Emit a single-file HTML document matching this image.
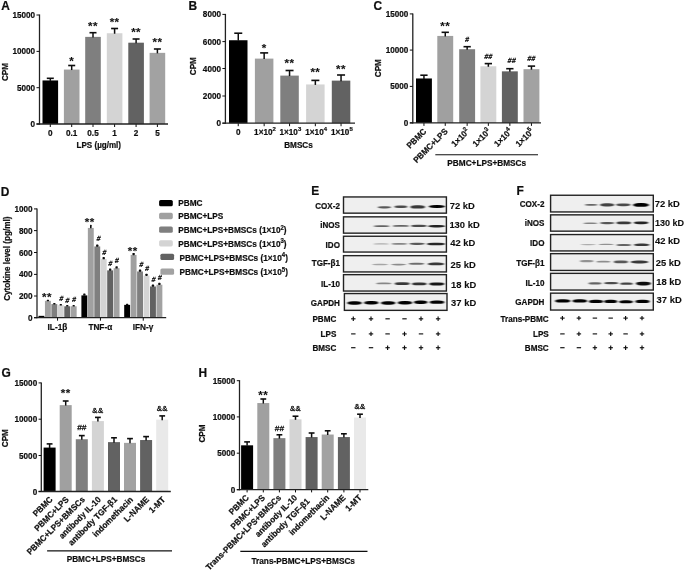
<!DOCTYPE html>
<html><head><meta charset="utf-8"><style>html,body{margin:0;padding:0;background:#fff}svg{display:block}text{stroke:#111;stroke-width:0.22px;paint-order:stroke}</style></head><body>
<svg width="685" height="572" viewBox="0 0 685 572" font-family="Liberation Sans, sans-serif">
<defs><filter id="bl" x="-20%" y="-100%" width="140%" height="300%"><feGaussianBlur stdDeviation="0.9 0.5"/></filter><filter id="soft" x="0" y="0" width="100%" height="100%" filterUnits="userSpaceOnUse"><feGaussianBlur stdDeviation="0.3"/></filter><filter id="bl2" x="-20%" y="-100%" width="140%" height="300%"><feGaussianBlur stdDeviation="0.7 0.45"/></filter></defs>
<rect x="0.00" y="0.00" width="685.00" height="572.00" fill="#fff" />
<g filter="url(#soft)">
<text transform="translate(1.30,10.00) scale(0.97,1)" font-size="12.3" text-anchor="start" fill="#111" font-weight="bold" >A</text>
<text transform="translate(188.60,10.00) scale(0.97,1)" font-size="12.3" text-anchor="start" fill="#111" font-weight="bold" >B</text>
<text transform="translate(373.60,9.80) scale(0.97,1)" font-size="12.3" text-anchor="start" fill="#111" font-weight="bold" >C</text>
<text transform="translate(0.80,196.00) scale(0.97,1)" font-size="12.3" text-anchor="start" fill="#111" font-weight="bold" >D</text>
<text transform="translate(311.20,195.40) scale(0.97,1)" font-size="12.3" text-anchor="start" fill="#111" font-weight="bold" >E</text>
<text transform="translate(516.40,195.30) scale(0.97,1)" font-size="12.3" text-anchor="start" fill="#111" font-weight="bold" >F</text>
<text transform="translate(1.60,376.50) scale(0.97,1)" font-size="12.3" text-anchor="start" fill="#111" font-weight="bold" >G</text>
<text transform="translate(198.40,376.50) scale(0.97,1)" font-size="12.3" text-anchor="start" fill="#111" font-weight="bold" >H</text>
<rect x="42.50" y="80.44" width="15.60" height="43.56" fill="#050505" />
<line x1="50.30" y1="80.94" x2="50.30" y2="78.30" stroke="#111" stroke-width="1.5"/>
<line x1="46.80" y1="78.30" x2="53.80" y2="78.30" stroke="#111" stroke-width="1.6"/>
<line x1="50.30" y1="124.00" x2="50.30" y2="127.00" stroke="#111" stroke-width="1.0"/>
<rect x="63.90" y="69.55" width="15.60" height="54.45" fill="#a0a0a0" />
<line x1="71.70" y1="70.05" x2="71.70" y2="65.50" stroke="#111" stroke-width="1.5"/>
<line x1="68.20" y1="65.50" x2="75.20" y2="65.50" stroke="#111" stroke-width="1.6"/>
<line x1="71.70" y1="124.00" x2="71.70" y2="127.00" stroke="#111" stroke-width="1.0"/>
<rect x="85.20" y="36.88" width="15.60" height="87.12" fill="#7f7f7f" />
<line x1="93.00" y1="37.38" x2="93.00" y2="32.70" stroke="#111" stroke-width="1.5"/>
<line x1="89.50" y1="32.70" x2="96.50" y2="32.70" stroke="#111" stroke-width="1.6"/>
<line x1="93.00" y1="124.00" x2="93.00" y2="127.00" stroke="#111" stroke-width="1.0"/>
<rect x="106.80" y="33.25" width="15.60" height="90.75" fill="#d4d4d4" />
<line x1="114.60" y1="33.75" x2="114.60" y2="28.50" stroke="#111" stroke-width="1.5"/>
<line x1="111.10" y1="28.50" x2="118.10" y2="28.50" stroke="#111" stroke-width="1.6"/>
<line x1="114.60" y1="124.00" x2="114.60" y2="127.00" stroke="#111" stroke-width="1.0"/>
<rect x="128.30" y="42.69" width="15.60" height="81.31" fill="#626262" />
<line x1="136.10" y1="43.19" x2="136.10" y2="39.00" stroke="#111" stroke-width="1.5"/>
<line x1="132.60" y1="39.00" x2="139.60" y2="39.00" stroke="#111" stroke-width="1.6"/>
<line x1="136.10" y1="124.00" x2="136.10" y2="127.00" stroke="#111" stroke-width="1.0"/>
<rect x="149.60" y="52.85" width="15.60" height="71.15" fill="#a2a2a2" />
<line x1="157.40" y1="53.35" x2="157.40" y2="49.00" stroke="#111" stroke-width="1.5"/>
<line x1="153.90" y1="49.00" x2="160.90" y2="49.00" stroke="#111" stroke-width="1.6"/>
<line x1="157.40" y1="124.00" x2="157.40" y2="127.00" stroke="#111" stroke-width="1.0"/>
<line x1="39.50" y1="14.50" x2="39.50" y2="124.60" stroke="#222" stroke-width="1.3"/>
<line x1="36.50" y1="124.00" x2="168.00" y2="124.00" stroke="#222" stroke-width="1.3"/>
<line x1="36.50" y1="15.00" x2="39.50" y2="15.00" stroke="#111" stroke-width="1.0"/>
<text transform="translate(35.10,18.05) scale(0.96,1)" font-size="8.5" text-anchor="end" fill="#111" font-weight="bold" >15000</text>
<line x1="36.50" y1="51.40" x2="39.50" y2="51.40" stroke="#111" stroke-width="1.0"/>
<text transform="translate(35.10,54.45) scale(0.96,1)" font-size="8.5" text-anchor="end" fill="#111" font-weight="bold" >10000</text>
<line x1="36.50" y1="87.70" x2="39.50" y2="87.70" stroke="#111" stroke-width="1.0"/>
<text transform="translate(35.10,90.75) scale(0.96,1)" font-size="8.5" text-anchor="end" fill="#111" font-weight="bold" >5000</text>
<line x1="36.50" y1="124.00" x2="39.50" y2="124.00" stroke="#111" stroke-width="1.0"/>
<text transform="translate(35.10,127.05) scale(0.96,1)" font-size="8.5" text-anchor="end" fill="#111" font-weight="bold" >0</text>
<text transform="translate(50.30,135.80) scale(0.96,1)" font-size="8.5" text-anchor="middle" fill="#111" font-weight="bold" >0</text>
<text transform="translate(71.70,135.80) scale(0.96,1)" font-size="8.5" text-anchor="middle" fill="#111" font-weight="bold" >0.1</text>
<text transform="translate(93.00,135.80) scale(0.96,1)" font-size="8.5" text-anchor="middle" fill="#111" font-weight="bold" >0.5</text>
<text transform="translate(114.60,135.80) scale(0.96,1)" font-size="8.5" text-anchor="middle" fill="#111" font-weight="bold" >1</text>
<text transform="translate(136.10,135.80) scale(0.96,1)" font-size="8.5" text-anchor="middle" fill="#111" font-weight="bold" >2</text>
<text transform="translate(157.40,135.80) scale(0.96,1)" font-size="8.5" text-anchor="middle" fill="#111" font-weight="bold" >5</text>
<text transform="translate(98.80,147.70) scale(0.96,1)" font-size="8.4" text-anchor="middle" fill="#111" font-weight="bold" >LPS (µg/ml)</text>
<text transform="translate(7.70,72.00) rotate(-90) scale(0.96,1)" font-size="8.5" text-anchor="middle" fill="#111" font-weight="bold">CPM</text>
<text transform="translate(71.70,65.11) scale(1.0,1)" font-size="11.5" text-anchor="middle" fill="#111" font-weight="bold" letter-spacing="0.5" style="stroke-width:0.1px">*</text>
<text transform="translate(93.00,29.70) scale(1.0,1)" font-size="11.5" text-anchor="middle" fill="#111" font-weight="bold" letter-spacing="0.5" style="stroke-width:0.1px">**</text>
<text transform="translate(114.60,26.01) scale(1.0,1)" font-size="11.5" text-anchor="middle" fill="#111" font-weight="bold" letter-spacing="0.5" style="stroke-width:0.1px">**</text>
<text transform="translate(136.10,35.60) scale(1.0,1)" font-size="11.5" text-anchor="middle" fill="#111" font-weight="bold" letter-spacing="0.5" style="stroke-width:0.1px">**</text>
<text transform="translate(157.40,45.70) scale(1.0,1)" font-size="11.5" text-anchor="middle" fill="#111" font-weight="bold" letter-spacing="0.5" style="stroke-width:0.1px">**</text>
<rect x="229.00" y="40.24" width="18.50" height="82.96" fill="#050505" />
<line x1="238.25" y1="40.74" x2="238.25" y2="33.20" stroke="#111" stroke-width="1.5"/>
<line x1="234.25" y1="33.20" x2="242.25" y2="33.20" stroke="#111" stroke-width="1.6"/>
<line x1="238.25" y1="123.20" x2="238.25" y2="126.20" stroke="#111" stroke-width="1.0"/>
<rect x="254.90" y="58.60" width="18.50" height="64.60" fill="#a0a0a0" />
<line x1="264.15" y1="59.10" x2="264.15" y2="52.90" stroke="#111" stroke-width="1.5"/>
<line x1="260.15" y1="52.90" x2="268.15" y2="52.90" stroke="#111" stroke-width="1.6"/>
<line x1="264.15" y1="123.20" x2="264.15" y2="126.20" stroke="#111" stroke-width="1.0"/>
<rect x="280.30" y="75.60" width="18.50" height="47.60" fill="#7f7f7f" />
<line x1="289.55" y1="76.10" x2="289.55" y2="70.50" stroke="#111" stroke-width="1.5"/>
<line x1="285.55" y1="70.50" x2="293.55" y2="70.50" stroke="#111" stroke-width="1.6"/>
<line x1="289.55" y1="123.20" x2="289.55" y2="126.20" stroke="#111" stroke-width="1.0"/>
<rect x="306.10" y="84.44" width="18.50" height="38.76" fill="#d4d4d4" />
<line x1="315.35" y1="84.94" x2="315.35" y2="80.40" stroke="#111" stroke-width="1.5"/>
<line x1="311.35" y1="80.40" x2="319.35" y2="80.40" stroke="#111" stroke-width="1.6"/>
<line x1="315.35" y1="123.20" x2="315.35" y2="126.20" stroke="#111" stroke-width="1.0"/>
<rect x="331.80" y="80.63" width="18.50" height="42.57" fill="#626262" />
<line x1="341.05" y1="81.13" x2="341.05" y2="75.00" stroke="#111" stroke-width="1.5"/>
<line x1="337.05" y1="75.00" x2="345.05" y2="75.00" stroke="#111" stroke-width="1.6"/>
<line x1="341.05" y1="123.20" x2="341.05" y2="126.20" stroke="#111" stroke-width="1.0"/>
<line x1="225.40" y1="13.90" x2="225.40" y2="123.80" stroke="#222" stroke-width="1.3"/>
<line x1="222.40" y1="123.20" x2="355.00" y2="123.20" stroke="#222" stroke-width="1.3"/>
<line x1="222.40" y1="14.40" x2="225.40" y2="14.40" stroke="#111" stroke-width="1.0"/>
<text transform="translate(221.00,17.45) scale(0.96,1)" font-size="8.5" text-anchor="end" fill="#111" font-weight="bold" >8000</text>
<line x1="222.40" y1="41.60" x2="225.40" y2="41.60" stroke="#111" stroke-width="1.0"/>
<text transform="translate(221.00,44.65) scale(0.96,1)" font-size="8.5" text-anchor="end" fill="#111" font-weight="bold" >6000</text>
<line x1="222.40" y1="68.50" x2="225.40" y2="68.50" stroke="#111" stroke-width="1.0"/>
<text transform="translate(221.00,71.55) scale(0.96,1)" font-size="8.5" text-anchor="end" fill="#111" font-weight="bold" >4000</text>
<line x1="222.40" y1="96.00" x2="225.40" y2="96.00" stroke="#111" stroke-width="1.0"/>
<text transform="translate(221.00,99.05) scale(0.96,1)" font-size="8.5" text-anchor="end" fill="#111" font-weight="bold" >2000</text>
<line x1="222.40" y1="123.20" x2="225.40" y2="123.20" stroke="#111" stroke-width="1.0"/>
<text transform="translate(221.00,126.25) scale(0.96,1)" font-size="8.5" text-anchor="end" fill="#111" font-weight="bold" >0</text>
<text transform="translate(238.25,134.80) scale(0.96,1)" font-size="8.5" text-anchor="middle" fill="#111" font-weight="bold" >0</text>
<text transform="translate(264.95,134.80) scale(0.96,1)" font-size="8.5" text-anchor="middle" fill="#111" font-weight="bold" >1×10<tspan font-size="6.2" dy="-3.7">2</tspan></text>
<text transform="translate(290.35,134.80) scale(0.96,1)" font-size="8.5" text-anchor="middle" fill="#111" font-weight="bold" >1×10<tspan font-size="6.2" dy="-3.7">3</tspan></text>
<text transform="translate(316.15,134.80) scale(0.96,1)" font-size="8.5" text-anchor="middle" fill="#111" font-weight="bold" >1×10<tspan font-size="6.2" dy="-3.7">4</tspan></text>
<text transform="translate(341.85,134.80) scale(0.96,1)" font-size="8.5" text-anchor="middle" fill="#111" font-weight="bold" >1×10<tspan font-size="6.2" dy="-3.7">5</tspan></text>
<text transform="translate(298.50,147.90) scale(0.96,1)" font-size="8.5" text-anchor="middle" fill="#111" font-weight="bold" >BMSCs</text>
<text transform="translate(195.80,66.20) rotate(-90) scale(0.96,1)" font-size="8.5" text-anchor="middle" fill="#111" font-weight="bold">CPM</text>
<text transform="translate(264.15,52.01) scale(1.0,1)" font-size="11.5" text-anchor="middle" fill="#111" font-weight="bold" letter-spacing="0.5" style="stroke-width:0.1px">*</text>
<text transform="translate(289.55,67.11) scale(1.0,1)" font-size="11.5" text-anchor="middle" fill="#111" font-weight="bold" letter-spacing="0.5" style="stroke-width:0.1px">**</text>
<text transform="translate(315.35,75.91) scale(1.0,1)" font-size="11.5" text-anchor="middle" fill="#111" font-weight="bold" letter-spacing="0.5" style="stroke-width:0.1px">**</text>
<text transform="translate(341.05,72.91) scale(1.0,1)" font-size="11.5" text-anchor="middle" fill="#111" font-weight="bold" letter-spacing="0.5" style="stroke-width:0.1px">**</text>
<rect x="416.00" y="78.47" width="15.90" height="44.43" fill="#050505" />
<line x1="423.95" y1="78.97" x2="423.95" y2="75.20" stroke="#111" stroke-width="1.5"/>
<line x1="420.30" y1="75.20" x2="427.60" y2="75.20" stroke="#111" stroke-width="1.6"/>
<line x1="423.95" y1="122.90" x2="423.95" y2="125.90" stroke="#111" stroke-width="1.0"/>
<rect x="437.30" y="35.93" width="15.90" height="86.97" fill="#a0a0a0" />
<line x1="445.25" y1="36.43" x2="445.25" y2="32.30" stroke="#111" stroke-width="1.5"/>
<line x1="441.60" y1="32.30" x2="448.90" y2="32.30" stroke="#111" stroke-width="1.6"/>
<line x1="445.25" y1="122.90" x2="445.25" y2="125.90" stroke="#111" stroke-width="1.0"/>
<rect x="459.20" y="49.21" width="15.90" height="73.69" fill="#7f7f7f" />
<line x1="467.15" y1="49.71" x2="467.15" y2="46.70" stroke="#111" stroke-width="1.5"/>
<line x1="463.50" y1="46.70" x2="470.80" y2="46.70" stroke="#111" stroke-width="1.6"/>
<line x1="467.15" y1="122.90" x2="467.15" y2="125.90" stroke="#111" stroke-width="1.0"/>
<rect x="480.40" y="66.27" width="15.90" height="56.63" fill="#d4d4d4" />
<line x1="488.35" y1="66.77" x2="488.35" y2="63.60" stroke="#111" stroke-width="1.5"/>
<line x1="484.70" y1="63.60" x2="492.00" y2="63.60" stroke="#111" stroke-width="1.6"/>
<line x1="488.35" y1="122.90" x2="488.35" y2="125.90" stroke="#111" stroke-width="1.0"/>
<rect x="501.90" y="71.35" width="15.90" height="51.55" fill="#626262" />
<line x1="509.85" y1="71.85" x2="509.85" y2="68.70" stroke="#111" stroke-width="1.5"/>
<line x1="506.20" y1="68.70" x2="513.50" y2="68.70" stroke="#111" stroke-width="1.6"/>
<line x1="509.85" y1="122.90" x2="509.85" y2="125.90" stroke="#111" stroke-width="1.0"/>
<rect x="523.50" y="69.18" width="15.90" height="53.72" fill="#a2a2a2" />
<line x1="531.45" y1="69.68" x2="531.45" y2="66.10" stroke="#111" stroke-width="1.5"/>
<line x1="527.80" y1="66.10" x2="535.10" y2="66.10" stroke="#111" stroke-width="1.6"/>
<line x1="531.45" y1="122.90" x2="531.45" y2="125.90" stroke="#111" stroke-width="1.0"/>
<line x1="412.80" y1="13.40" x2="412.80" y2="123.50" stroke="#222" stroke-width="1.3"/>
<line x1="409.80" y1="122.90" x2="541.00" y2="122.90" stroke="#222" stroke-width="1.3"/>
<line x1="409.80" y1="13.90" x2="412.80" y2="13.90" stroke="#111" stroke-width="1.0"/>
<text transform="translate(408.40,16.95) scale(0.96,1)" font-size="8.5" text-anchor="end" fill="#111" font-weight="bold" >15000</text>
<line x1="409.80" y1="50.10" x2="412.80" y2="50.10" stroke="#111" stroke-width="1.0"/>
<text transform="translate(408.40,53.15) scale(0.96,1)" font-size="8.5" text-anchor="end" fill="#111" font-weight="bold" >10000</text>
<line x1="409.80" y1="86.40" x2="412.80" y2="86.40" stroke="#111" stroke-width="1.0"/>
<text transform="translate(408.40,89.45) scale(0.96,1)" font-size="8.5" text-anchor="end" fill="#111" font-weight="bold" >5000</text>
<line x1="409.80" y1="122.90" x2="412.80" y2="122.90" stroke="#111" stroke-width="1.0"/>
<text transform="translate(408.40,125.95) scale(0.96,1)" font-size="8.5" text-anchor="end" fill="#111" font-weight="bold" >0</text>
<text transform="translate(380.60,68.20) rotate(-90) scale(0.96,1)" font-size="8.5" text-anchor="middle" fill="#111" font-weight="bold">CPM</text>
<text transform="translate(426.95,132.00) rotate(-45) scale(0.96,1)" font-size="8.5" text-anchor="end" fill="#111" font-weight="bold">PBMC</text>
<text transform="translate(448.25,132.00) rotate(-45) scale(0.96,1)" font-size="8.5" text-anchor="end" fill="#111" font-weight="bold">PBMC+LPS</text>
<text transform="translate(470.15,132.00) rotate(-45) scale(0.96,1)" font-size="8.5" text-anchor="end" fill="#111" font-weight="bold">1×10<tspan font-size="6.2" dy="-3.7">2</tspan></text>
<text transform="translate(491.35,132.00) rotate(-45) scale(0.96,1)" font-size="8.5" text-anchor="end" fill="#111" font-weight="bold">1×10<tspan font-size="6.2" dy="-3.7">3</tspan></text>
<text transform="translate(512.85,132.00) rotate(-45) scale(0.96,1)" font-size="8.5" text-anchor="end" fill="#111" font-weight="bold">1×10<tspan font-size="6.2" dy="-3.7">4</tspan></text>
<text transform="translate(534.45,132.00) rotate(-45) scale(0.96,1)" font-size="8.5" text-anchor="end" fill="#111" font-weight="bold">1×10<tspan font-size="6.2" dy="-3.7">5</tspan></text>
<line x1="435.30" y1="154.70" x2="538.00" y2="154.70" stroke="#111" stroke-width="1.1"/>
<text transform="translate(486.70,166.00) scale(0.96,1)" font-size="8.6" text-anchor="middle" fill="#111" font-weight="bold" >PBMC+LPS+BMSCs</text>
<text transform="translate(445.30,29.91) scale(1.0,1)" font-size="11.5" text-anchor="middle" fill="#111" font-weight="bold" letter-spacing="0.5" style="stroke-width:0.1px">**</text>
<text transform="translate(466.80,41.95) skewX(-8) scale(0.95,1)" font-size="7.4" text-anchor="middle" fill="#111" font-weight="bold" font-style="italic" letter-spacing="0.3">#</text>
<text transform="translate(488.10,58.85) skewX(-8) scale(0.95,1)" font-size="7.4" text-anchor="middle" fill="#111" font-weight="bold" font-style="italic" letter-spacing="0.3">##</text>
<text transform="translate(511.40,63.45) skewX(-8) scale(0.95,1)" font-size="7.4" text-anchor="middle" fill="#111" font-weight="bold" font-style="italic" letter-spacing="0.3">##</text>
<text transform="translate(531.10,60.95) skewX(-8) scale(0.95,1)" font-size="7.4" text-anchor="middle" fill="#111" font-weight="bold" font-style="italic" letter-spacing="0.3">##</text>
<rect x="38.50" y="315.85" width="5.90" height="1.85" fill="#050505" />
<rect x="44.95" y="300.84" width="5.90" height="16.86" fill="#a0a0a0" />
<rect x="51.40" y="304.10" width="5.90" height="13.60" fill="#7f7f7f" />
<rect x="57.85" y="305.19" width="5.90" height="12.51" fill="#d4d4d4" />
<rect x="64.30" y="306.28" width="5.90" height="11.42" fill="#626262" />
<rect x="70.75" y="306.28" width="5.90" height="11.42" fill="#a2a2a2" />
<rect x="81.40" y="295.40" width="5.90" height="22.30" fill="#050505" />
<rect x="87.85" y="227.94" width="5.90" height="89.76" fill="#a0a0a0" />
<rect x="94.30" y="246.44" width="5.90" height="71.26" fill="#7f7f7f" />
<rect x="100.75" y="258.95" width="5.90" height="58.75" fill="#d4d4d4" />
<rect x="107.20" y="270.37" width="5.90" height="47.33" fill="#626262" />
<rect x="113.65" y="268.20" width="5.90" height="49.50" fill="#a2a2a2" />
<rect x="124.20" y="304.86" width="5.90" height="12.84" fill="#050505" />
<rect x="130.65" y="254.92" width="5.90" height="62.78" fill="#a0a0a0" />
<rect x="137.10" y="271.46" width="5.90" height="46.24" fill="#7f7f7f" />
<rect x="143.55" y="275.59" width="5.90" height="42.11" fill="#d4d4d4" />
<rect x="150.00" y="286.47" width="5.90" height="31.23" fill="#626262" />
<rect x="156.45" y="284.73" width="5.90" height="32.97" fill="#a2a2a2" />
<line x1="37.00" y1="208.40" x2="37.00" y2="318.30" stroke="#222" stroke-width="1.3"/>
<line x1="34.00" y1="317.70" x2="166.20" y2="317.70" stroke="#222" stroke-width="1.3"/>
<line x1="34.00" y1="208.90" x2="37.00" y2="208.90" stroke="#111" stroke-width="1.0"/>
<text transform="translate(32.60,211.95) scale(0.96,1)" font-size="8.5" text-anchor="end" fill="#111" font-weight="bold" >1000</text>
<line x1="34.00" y1="230.60" x2="37.00" y2="230.60" stroke="#111" stroke-width="1.0"/>
<text transform="translate(32.60,233.65) scale(0.96,1)" font-size="8.5" text-anchor="end" fill="#111" font-weight="bold" >800</text>
<line x1="34.00" y1="252.50" x2="37.00" y2="252.50" stroke="#111" stroke-width="1.0"/>
<text transform="translate(32.60,255.55) scale(0.96,1)" font-size="8.5" text-anchor="end" fill="#111" font-weight="bold" >600</text>
<line x1="34.00" y1="274.40" x2="37.00" y2="274.40" stroke="#111" stroke-width="1.0"/>
<text transform="translate(32.60,277.45) scale(0.96,1)" font-size="8.5" text-anchor="end" fill="#111" font-weight="bold" >400</text>
<line x1="34.00" y1="296.00" x2="37.00" y2="296.00" stroke="#111" stroke-width="1.0"/>
<text transform="translate(32.60,299.05) scale(0.96,1)" font-size="8.5" text-anchor="end" fill="#111" font-weight="bold" >200</text>
<line x1="34.00" y1="317.70" x2="37.00" y2="317.70" stroke="#111" stroke-width="1.0"/>
<text transform="translate(32.60,320.75) scale(0.96,1)" font-size="8.5" text-anchor="end" fill="#111" font-weight="bold" >0</text>
<rect x="46.75" y="299.64" width="2.30" height="1.50" fill="#0a0a0a" rx="0.6"/>
<rect x="53.20" y="302.90" width="2.30" height="1.50" fill="#0a0a0a" rx="0.6"/>
<rect x="59.65" y="303.99" width="2.30" height="1.50" fill="#0a0a0a" rx="0.6"/>
<rect x="66.10" y="305.08" width="2.30" height="1.50" fill="#0a0a0a" rx="0.6"/>
<rect x="72.55" y="305.08" width="2.30" height="1.50" fill="#0a0a0a" rx="0.6"/>
<rect x="83.20" y="293.50" width="2.30" height="2.20" fill="#0a0a0a" rx="0.6"/>
<rect x="90.00" y="224.74" width="1.60" height="3.50" fill="#0a0a0a" rx="0.6"/>
<rect x="96.10" y="244.54" width="2.30" height="2.20" fill="#0a0a0a" rx="0.6"/>
<rect x="102.55" y="257.05" width="2.30" height="2.20" fill="#0a0a0a" rx="0.6"/>
<rect x="109.00" y="268.47" width="2.30" height="2.20" fill="#0a0a0a" rx="0.6"/>
<rect x="115.45" y="266.30" width="2.30" height="2.20" fill="#0a0a0a" rx="0.6"/>
<rect x="126.00" y="303.66" width="2.30" height="1.50" fill="#0a0a0a" rx="0.6"/>
<rect x="132.45" y="253.02" width="2.30" height="2.20" fill="#0a0a0a" rx="0.6"/>
<rect x="138.90" y="269.56" width="2.30" height="2.20" fill="#0a0a0a" rx="0.6"/>
<rect x="145.35" y="273.69" width="2.30" height="2.20" fill="#0a0a0a" rx="0.6"/>
<rect x="151.80" y="284.57" width="2.30" height="2.20" fill="#0a0a0a" rx="0.6"/>
<rect x="158.25" y="282.83" width="2.30" height="2.20" fill="#0a0a0a" rx="0.6"/>
<line x1="57.55" y1="317.70" x2="57.55" y2="320.70" stroke="#111" stroke-width="1.0"/>
<line x1="100.45" y1="317.70" x2="100.45" y2="320.70" stroke="#111" stroke-width="1.0"/>
<line x1="143.25" y1="317.70" x2="143.25" y2="320.70" stroke="#111" stroke-width="1.0"/>
<text transform="translate(57.40,329.70) scale(0.96,1)" font-size="8.6" text-anchor="middle" fill="#111" font-weight="bold" >IL-1β</text>
<text transform="translate(100.30,329.70) scale(0.96,1)" font-size="8.6" text-anchor="middle" fill="#111" font-weight="bold" >TNF-α</text>
<text transform="translate(143.00,329.70) scale(0.96,1)" font-size="8.6" text-anchor="middle" fill="#111" font-weight="bold" >IFN-γ</text>
<text transform="translate(9.80,258.70) rotate(-90) scale(0.96,1)" font-size="8.5" text-anchor="middle" fill="#111" font-weight="bold">Cytokine level (pg/ml)</text>
<text transform="translate(47.00,300.60) scale(1.0,1)" font-size="11.5" text-anchor="middle" fill="#111" font-weight="bold" letter-spacing="0.5" style="stroke-width:0.1px">**</text>
<text transform="translate(89.70,226.00) scale(1.0,1)" font-size="11.5" text-anchor="middle" fill="#111" font-weight="bold" letter-spacing="0.5" style="stroke-width:0.1px">**</text>
<text transform="translate(132.80,254.71) scale(1.0,1)" font-size="11.5" text-anchor="middle" fill="#111" font-weight="bold" letter-spacing="0.5" style="stroke-width:0.1px">**</text>
<text transform="translate(61.00,301.05) skewX(-8) scale(0.95,1)" font-size="7.4" text-anchor="middle" fill="#111" font-weight="bold" font-style="italic" letter-spacing="0.3">#</text>
<text transform="translate(67.20,303.25) skewX(-8) scale(0.95,1)" font-size="7.4" text-anchor="middle" fill="#111" font-weight="bold" font-style="italic" letter-spacing="0.3">#</text>
<text transform="translate(73.80,301.65) skewX(-8) scale(0.95,1)" font-size="7.4" text-anchor="middle" fill="#111" font-weight="bold" font-style="italic" letter-spacing="0.3">#</text>
<text transform="translate(98.30,241.05) skewX(-8) scale(0.95,1)" font-size="7.4" text-anchor="middle" fill="#111" font-weight="bold" font-style="italic" letter-spacing="0.3">#</text>
<text transform="translate(104.00,255.05) skewX(-8) scale(0.95,1)" font-size="7.4" text-anchor="middle" fill="#111" font-weight="bold" font-style="italic" letter-spacing="0.3">#</text>
<text transform="translate(110.00,266.25) skewX(-8) scale(0.95,1)" font-size="7.4" text-anchor="middle" fill="#111" font-weight="bold" font-style="italic" letter-spacing="0.3">#</text>
<text transform="translate(116.50,262.65) skewX(-8) scale(0.95,1)" font-size="7.4" text-anchor="middle" fill="#111" font-weight="bold" font-style="italic" letter-spacing="0.3">#</text>
<text transform="translate(141.00,266.85) skewX(-8) scale(0.95,1)" font-size="7.4" text-anchor="middle" fill="#111" font-weight="bold" font-style="italic" letter-spacing="0.3">#</text>
<text transform="translate(146.80,271.45) skewX(-8) scale(0.95,1)" font-size="7.4" text-anchor="middle" fill="#111" font-weight="bold" font-style="italic" letter-spacing="0.3">#</text>
<text transform="translate(153.30,282.45) skewX(-8) scale(0.95,1)" font-size="7.4" text-anchor="middle" fill="#111" font-weight="bold" font-style="italic" letter-spacing="0.3">#</text>
<text transform="translate(159.50,280.25) skewX(-8) scale(0.95,1)" font-size="7.4" text-anchor="middle" fill="#111" font-weight="bold" font-style="italic" letter-spacing="0.3">#</text>
<rect x="159.10" y="199.95" width="13.70" height="6.30" fill="#050505" rx="1.6"/>
<text transform="translate(178.20,206.10) scale(0.96,1)" font-size="8.6" text-anchor="start" fill="#111" font-weight="bold" >PBMC</text>
<rect x="159.10" y="212.85" width="13.70" height="6.30" fill="#a0a0a0" rx="1.6"/>
<text transform="translate(178.20,219.00) scale(0.96,1)" font-size="8.6" text-anchor="start" fill="#111" font-weight="bold" >PBMC+LPS</text>
<rect x="159.10" y="226.45" width="13.70" height="6.30" fill="#7f7f7f" rx="1.6"/>
<text transform="translate(178.20,233.30) scale(0.96,1)" font-size="8.6" text-anchor="start" fill="#111" font-weight="bold" >PBMC+LPS+BMSCs (1×10<tspan font-size="6.3" dy="-3.7">2</tspan><tspan dy="3.7">)</tspan></text>
<rect x="159.10" y="240.15" width="13.70" height="6.30" fill="#d4d4d4" rx="1.6"/>
<text transform="translate(178.20,246.70) scale(0.96,1)" font-size="8.6" text-anchor="start" fill="#111" font-weight="bold" >PBMC+LPS+BMSCs (1×10<tspan font-size="6.3" dy="-3.7">3</tspan><tspan dy="3.7">)</tspan></text>
<rect x="160.40" y="253.75" width="13.70" height="6.30" fill="#626262" rx="1.6"/>
<text transform="translate(179.50,260.80) scale(0.96,1)" font-size="8.6" text-anchor="start" fill="#111" font-weight="bold" >PBMC+LPS+BMSCs (1×10<tspan font-size="6.3" dy="-3.7">4</tspan><tspan dy="3.7">)</tspan></text>
<rect x="160.40" y="268.45" width="13.70" height="6.30" fill="#a2a2a2" rx="1.6"/>
<text transform="translate(179.50,275.40) scale(0.96,1)" font-size="8.6" text-anchor="start" fill="#111" font-weight="bold" >PBMC+LPS+BMSCs (1×10<tspan font-size="6.3" dy="-3.7">5</tspan><tspan dy="3.7">)</tspan></text>
<rect x="343.50" y="196.95" width="102.90" height="16.20" fill="#efefef" stroke="#222" stroke-width="1.4"/>
<rect x="343.50" y="216.85" width="102.90" height="16.30" fill="#efefef" stroke="#222" stroke-width="1.4"/>
<rect x="343.50" y="236.25" width="102.90" height="15.80" fill="#efefef" stroke="#222" stroke-width="1.4"/>
<rect x="343.50" y="255.65" width="102.90" height="16.30" fill="#efefef" stroke="#222" stroke-width="1.4"/>
<rect x="343.50" y="274.65" width="102.90" height="16.40" fill="#efefef" stroke="#222" stroke-width="1.4"/>
<rect x="344.40" y="293.55" width="102.60" height="16.80" fill="#efefef" stroke="#222" stroke-width="1.4"/>
<g filter="url(#bl)">
<rect x="377.85" y="206.23" width="13.10" height="2.15" rx="4.72" ry="1.07" fill="#000" opacity="0.63"/>
<rect x="394.45" y="205.62" width="12.90" height="2.35" rx="4.64" ry="1.18" fill="#000" opacity="0.69"/>
<rect x="410.45" y="205.33" width="14.50" height="3.15" rx="5.22" ry="1.57" fill="#000" opacity="0.77"/>
<rect x="428.75" y="205.03" width="16.30" height="2.95" rx="5.87" ry="1.48" fill="#000" opacity="0.98"/>
<rect x="373.55" y="225.32" width="16.10" height="1.75" rx="5.80" ry="0.88" fill="#000" opacity="0.58"/>
<rect x="392.90" y="225.03" width="16.00" height="1.75" rx="5.76" ry="0.88" fill="#000" opacity="0.58"/>
<rect x="411.20" y="224.83" width="15.40" height="2.15" rx="5.54" ry="1.07" fill="#000" opacity="0.69"/>
<rect x="428.15" y="224.92" width="16.90" height="2.55" rx="6.08" ry="1.27" fill="#000" opacity="0.86"/>
<rect x="373.55" y="243.22" width="15.30" height="1.35" rx="5.51" ry="0.68" fill="#000" opacity="0.28"/>
<rect x="391.55" y="243.08" width="15.70" height="1.65" rx="5.65" ry="0.82" fill="#000" opacity="0.45"/>
<rect x="409.55" y="242.73" width="15.10" height="2.15" rx="5.44" ry="1.07" fill="#000" opacity="0.63"/>
<rect x="426.90" y="242.68" width="18.20" height="2.65" rx="6.55" ry="1.32" fill="#000" opacity="0.84"/>
<rect x="372.20" y="263.82" width="15.80" height="1.35" rx="5.69" ry="0.68" fill="#000" opacity="0.31"/>
<rect x="391.20" y="263.83" width="14.80" height="1.55" rx="5.33" ry="0.78" fill="#000" opacity="0.42"/>
<rect x="408.85" y="262.72" width="15.30" height="1.95" rx="5.51" ry="0.98" fill="#000" opacity="0.54"/>
<rect x="427.70" y="262.62" width="16.60" height="2.75" rx="5.98" ry="1.38" fill="#000" opacity="0.77"/>
<rect x="376.30" y="282.52" width="15.00" height="1.75" rx="5.40" ry="0.88" fill="#000" opacity="0.44"/>
<rect x="394.70" y="282.32" width="15.00" height="2.75" rx="5.40" ry="1.38" fill="#000" opacity="0.76"/>
<rect x="412.05" y="282.47" width="14.50" height="2.85" rx="5.22" ry="1.43" fill="#000" opacity="0.80"/>
<rect x="429.30" y="282.52" width="15.00" height="2.95" rx="5.40" ry="1.48" fill="#000" opacity="0.90"/>
<rect x="347.40" y="301.30" width="14.20" height="3.40" rx="5.11" ry="1.70" fill="#000" opacity="1.00"/>
<rect x="364.25" y="301.00" width="14.10" height="3.40" rx="5.08" ry="1.70" fill="#000" opacity="1.00"/>
<rect x="381.15" y="301.30" width="14.10" height="3.40" rx="5.08" ry="1.70" fill="#000" opacity="1.00"/>
<rect x="397.90" y="301.00" width="14.20" height="3.40" rx="5.11" ry="1.70" fill="#000" opacity="1.00"/>
<rect x="414.05" y="300.50" width="13.30" height="3.40" rx="4.79" ry="1.70" fill="#000" opacity="1.00"/>
<rect x="429.75" y="300.60" width="14.50" height="3.20" rx="5.22" ry="1.60" fill="#000" opacity="1.00"/>
</g>
<text transform="translate(339.90,209.43) scale(0.96,1)" font-size="8.4" text-anchor="end" fill="#111" font-weight="bold" >COX-2</text>
<text transform="translate(449.80,208.84) scale(0.95,1)" font-size="9.9" fill="#111" font-weight="bold" style="stroke-width:0.12px">72 kD</text>
<text transform="translate(339.90,228.48) scale(0.96,1)" font-size="8.4" text-anchor="end" fill="#111" font-weight="bold" >iNOS</text>
<text transform="translate(449.40,228.34) scale(0.95,1)" font-size="9.9" fill="#111" font-weight="bold" style="stroke-width:0.12px">130 kD</text>
<text transform="translate(339.90,248.18) scale(0.96,1)" font-size="8.4" text-anchor="end" fill="#111" font-weight="bold" >IDO</text>
<text transform="translate(450.20,246.34) scale(0.95,1)" font-size="9.9" fill="#111" font-weight="bold" style="stroke-width:0.12px">42 kD</text>
<text transform="translate(339.90,266.18) scale(0.96,1)" font-size="8.4" text-anchor="end" fill="#111" font-weight="bold" >TGF-β1</text>
<text transform="translate(450.60,268.04) scale(0.95,1)" font-size="9.9" fill="#111" font-weight="bold" style="stroke-width:0.12px">25 kD</text>
<text transform="translate(339.90,286.98) scale(0.96,1)" font-size="8.4" text-anchor="end" fill="#111" font-weight="bold" >IL-10</text>
<text transform="translate(451.10,287.94) scale(0.95,1)" font-size="9.9" fill="#111" font-weight="bold" style="stroke-width:0.12px">18 kD</text>
<text transform="translate(339.90,305.88) scale(0.96,1)" font-size="8.4" text-anchor="end" fill="#111" font-weight="bold" >GAPDH</text>
<text transform="translate(451.10,306.14) scale(0.95,1)" font-size="9.9" fill="#111" font-weight="bold" style="stroke-width:0.12px">37 kD</text>
<text transform="translate(336.30,321.98) scale(0.96,1)" font-size="8.45" text-anchor="end" fill="#111" font-weight="bold" >PBMC</text>
<line x1="351.10" y1="318.80" x2="355.50" y2="318.80" stroke="#111" stroke-width="1.15"/>
<line x1="353.30" y1="316.60" x2="353.30" y2="321.00" stroke="#111" stroke-width="1.15"/>
<line x1="368.80" y1="318.80" x2="373.20" y2="318.80" stroke="#111" stroke-width="1.15"/>
<line x1="371.00" y1="316.60" x2="371.00" y2="321.00" stroke="#111" stroke-width="1.15"/>
<line x1="385.40" y1="318.80" x2="389.80" y2="318.80" stroke="#111" stroke-width="1.15"/>
<line x1="402.30" y1="318.80" x2="406.70" y2="318.80" stroke="#111" stroke-width="1.15"/>
<line x1="418.80" y1="318.80" x2="423.20" y2="318.80" stroke="#111" stroke-width="1.15"/>
<line x1="421.00" y1="316.60" x2="421.00" y2="321.00" stroke="#111" stroke-width="1.15"/>
<line x1="435.90" y1="318.80" x2="440.30" y2="318.80" stroke="#111" stroke-width="1.15"/>
<line x1="438.10" y1="316.60" x2="438.10" y2="321.00" stroke="#111" stroke-width="1.15"/>
<text transform="translate(336.30,336.98) scale(0.96,1)" font-size="8.45" text-anchor="end" fill="#111" font-weight="bold" >LPS</text>
<line x1="351.10" y1="333.90" x2="355.50" y2="333.90" stroke="#111" stroke-width="1.15"/>
<line x1="368.80" y1="333.90" x2="373.20" y2="333.90" stroke="#111" stroke-width="1.15"/>
<line x1="371.00" y1="331.70" x2="371.00" y2="336.10" stroke="#111" stroke-width="1.15"/>
<line x1="385.40" y1="333.90" x2="389.80" y2="333.90" stroke="#111" stroke-width="1.15"/>
<line x1="402.30" y1="333.90" x2="406.70" y2="333.90" stroke="#111" stroke-width="1.15"/>
<line x1="404.50" y1="331.70" x2="404.50" y2="336.10" stroke="#111" stroke-width="1.15"/>
<line x1="418.80" y1="333.90" x2="423.20" y2="333.90" stroke="#111" stroke-width="1.15"/>
<line x1="435.90" y1="333.90" x2="440.30" y2="333.90" stroke="#111" stroke-width="1.15"/>
<line x1="438.10" y1="331.70" x2="438.10" y2="336.10" stroke="#111" stroke-width="1.15"/>
<text transform="translate(336.30,350.78) scale(0.96,1)" font-size="8.45" text-anchor="end" fill="#111" font-weight="bold" >BMSC</text>
<line x1="351.10" y1="347.70" x2="355.50" y2="347.70" stroke="#111" stroke-width="1.15"/>
<line x1="368.80" y1="347.70" x2="373.20" y2="347.70" stroke="#111" stroke-width="1.15"/>
<line x1="385.40" y1="347.70" x2="389.80" y2="347.70" stroke="#111" stroke-width="1.15"/>
<line x1="387.60" y1="345.50" x2="387.60" y2="349.90" stroke="#111" stroke-width="1.15"/>
<line x1="402.30" y1="347.70" x2="406.70" y2="347.70" stroke="#111" stroke-width="1.15"/>
<line x1="404.50" y1="345.50" x2="404.50" y2="349.90" stroke="#111" stroke-width="1.15"/>
<line x1="418.80" y1="347.70" x2="423.20" y2="347.70" stroke="#111" stroke-width="1.15"/>
<line x1="421.00" y1="345.50" x2="421.00" y2="349.90" stroke="#111" stroke-width="1.15"/>
<line x1="435.90" y1="347.70" x2="440.30" y2="347.70" stroke="#111" stroke-width="1.15"/>
<line x1="438.10" y1="345.50" x2="438.10" y2="349.90" stroke="#111" stroke-width="1.15"/>
<rect x="550.60" y="195.25" width="102.70" height="16.70" fill="#efefef" stroke="#222" stroke-width="1.4"/>
<rect x="550.60" y="214.85" width="102.70" height="16.30" fill="#efefef" stroke="#222" stroke-width="1.4"/>
<rect x="550.60" y="234.55" width="102.70" height="16.40" fill="#efefef" stroke="#222" stroke-width="1.4"/>
<rect x="550.60" y="253.65" width="102.70" height="16.80" fill="#efefef" stroke="#222" stroke-width="1.4"/>
<rect x="550.60" y="273.35" width="102.70" height="16.70" fill="#efefef" stroke="#222" stroke-width="1.4"/>
<rect x="550.60" y="293.15" width="102.70" height="16.90" fill="#efefef" stroke="#222" stroke-width="1.4"/>
<g filter="url(#bl)">
<rect x="584.90" y="203.93" width="12.60" height="1.75" rx="4.54" ry="0.88" fill="#000" opacity="0.58"/>
<rect x="600.15" y="203.23" width="14.10" height="3.15" rx="5.08" ry="1.57" fill="#000" opacity="0.72"/>
<rect x="616.20" y="203.43" width="14.20" height="2.75" rx="5.11" ry="1.38" fill="#000" opacity="0.69"/>
<rect x="633.10" y="203.12" width="15.80" height="3.55" rx="5.69" ry="1.77" fill="#000" opacity="0.98"/>
<rect x="583.30" y="222.38" width="14.20" height="1.65" rx="5.11" ry="0.82" fill="#000" opacity="0.45"/>
<rect x="600.15" y="222.03" width="14.10" height="2.15" rx="5.08" ry="1.07" fill="#000" opacity="0.64"/>
<rect x="616.50" y="221.58" width="14.60" height="2.65" rx="5.26" ry="1.32" fill="#000" opacity="0.77"/>
<rect x="633.85" y="221.38" width="14.50" height="2.85" rx="5.22" ry="1.43" fill="#000" opacity="0.86"/>
<rect x="580.55" y="243.97" width="15.30" height="1.25" rx="5.51" ry="0.62" fill="#000" opacity="0.28"/>
<rect x="598.90" y="243.72" width="14.60" height="1.35" rx="5.26" ry="0.68" fill="#000" opacity="0.39"/>
<rect x="616.50" y="243.88" width="14.60" height="2.05" rx="5.26" ry="1.02" fill="#000" opacity="0.58"/>
<rect x="633.80" y="243.53" width="15.80" height="2.55" rx="5.69" ry="1.27" fill="#000" opacity="0.77"/>
<rect x="580.00" y="260.12" width="13.40" height="2.15" rx="4.82" ry="1.07" fill="#000" opacity="0.39"/>
<rect x="596.60" y="260.77" width="13.60" height="1.85" rx="4.90" ry="0.93" fill="#000" opacity="0.41"/>
<rect x="613.80" y="260.62" width="14.20" height="2.75" rx="5.11" ry="1.38" fill="#000" opacity="0.63"/>
<rect x="630.65" y="260.43" width="17.70" height="3.15" rx="6.37" ry="1.57" fill="#000" opacity="0.77"/>
<rect x="588.55" y="282.32" width="12.90" height="2.15" rx="4.64" ry="1.07" fill="#000" opacity="0.58"/>
<rect x="604.10" y="281.93" width="14.20" height="2.35" rx="5.11" ry="1.18" fill="#000" opacity="0.69"/>
<rect x="620.25" y="282.52" width="12.50" height="2.35" rx="4.50" ry="1.18" fill="#000" opacity="0.72"/>
<rect x="635.95" y="281.83" width="14.90" height="3.55" rx="5.36" ry="1.77" fill="#000" opacity="0.94"/>
<rect x="555.20" y="299.20" width="15.00" height="3.40" rx="5.40" ry="1.70" fill="#000" opacity="1.00"/>
<rect x="572.60" y="299.20" width="14.40" height="3.40" rx="5.18" ry="1.70" fill="#000" opacity="1.00"/>
<rect x="588.95" y="299.75" width="14.10" height="3.30" rx="5.08" ry="1.65" fill="#000" opacity="1.00"/>
<rect x="604.20" y="299.75" width="13.00" height="3.30" rx="4.68" ry="1.65" fill="#000" opacity="1.00"/>
<rect x="619.20" y="300.15" width="13.60" height="3.10" rx="4.90" ry="1.55" fill="#000" opacity="1.00"/>
<rect x="635.40" y="299.75" width="14.20" height="3.30" rx="5.11" ry="1.65" fill="#000" opacity="1.00"/>
</g>
<text transform="translate(544.40,206.88) scale(0.96,1)" font-size="8.4" text-anchor="end" fill="#111" font-weight="bold" >COX-2</text>
<text transform="translate(654.70,207.24) scale(0.95,1)" font-size="9.9" fill="#111" font-weight="bold" style="stroke-width:0.12px">72 kD</text>
<text transform="translate(544.40,225.78) scale(0.96,1)" font-size="8.4" text-anchor="end" fill="#111" font-weight="bold" >iNOS</text>
<text transform="translate(655.00,226.24) scale(0.915,1)" font-size="9.9" fill="#111" font-weight="bold" style="stroke-width:0.12px">130 kD</text>
<text transform="translate(544.40,246.18) scale(0.96,1)" font-size="8.4" text-anchor="end" fill="#111" font-weight="bold" >IDO</text>
<text transform="translate(655.00,244.24) scale(0.95,1)" font-size="9.9" fill="#111" font-weight="bold" style="stroke-width:0.12px">42 kD</text>
<text transform="translate(544.40,265.58) scale(0.96,1)" font-size="8.4" text-anchor="end" fill="#111" font-weight="bold" >TGF-β1</text>
<text transform="translate(655.80,266.04) scale(0.95,1)" font-size="9.9" fill="#111" font-weight="bold" style="stroke-width:0.12px">25 kD</text>
<text transform="translate(544.40,285.68) scale(0.96,1)" font-size="8.4" text-anchor="end" fill="#111" font-weight="bold" >IL-10</text>
<text transform="translate(656.20,285.34) scale(0.95,1)" font-size="9.9" fill="#111" font-weight="bold" style="stroke-width:0.12px">18 kD</text>
<text transform="translate(544.40,305.28) scale(0.96,1)" font-size="8.4" text-anchor="end" fill="#111" font-weight="bold" >GAPDH</text>
<text transform="translate(656.60,303.34) scale(0.95,1)" font-size="9.9" fill="#111" font-weight="bold" style="stroke-width:0.12px">37 kD</text>
<text transform="translate(548.70,322.48) scale(0.96,1)" font-size="8.45" text-anchor="end" fill="#111" font-weight="bold" >Trans-PBMC</text>
<line x1="560.20" y1="318.10" x2="564.60" y2="318.10" stroke="#111" stroke-width="1.15"/>
<line x1="562.40" y1="315.90" x2="562.40" y2="320.30" stroke="#111" stroke-width="1.15"/>
<line x1="576.70" y1="318.10" x2="581.10" y2="318.10" stroke="#111" stroke-width="1.15"/>
<line x1="578.90" y1="315.90" x2="578.90" y2="320.30" stroke="#111" stroke-width="1.15"/>
<line x1="592.70" y1="318.10" x2="597.10" y2="318.10" stroke="#111" stroke-width="1.15"/>
<line x1="608.50" y1="318.10" x2="612.90" y2="318.10" stroke="#111" stroke-width="1.15"/>
<line x1="623.40" y1="318.10" x2="627.80" y2="318.10" stroke="#111" stroke-width="1.15"/>
<line x1="625.60" y1="315.90" x2="625.60" y2="320.30" stroke="#111" stroke-width="1.15"/>
<line x1="639.80" y1="318.10" x2="644.20" y2="318.10" stroke="#111" stroke-width="1.15"/>
<line x1="642.00" y1="315.90" x2="642.00" y2="320.30" stroke="#111" stroke-width="1.15"/>
<text transform="translate(548.70,336.98) scale(0.96,1)" font-size="8.45" text-anchor="end" fill="#111" font-weight="bold" >LPS</text>
<line x1="560.20" y1="333.90" x2="564.60" y2="333.90" stroke="#111" stroke-width="1.15"/>
<line x1="576.70" y1="333.90" x2="581.10" y2="333.90" stroke="#111" stroke-width="1.15"/>
<line x1="578.90" y1="331.70" x2="578.90" y2="336.10" stroke="#111" stroke-width="1.15"/>
<line x1="592.70" y1="333.90" x2="597.10" y2="333.90" stroke="#111" stroke-width="1.15"/>
<line x1="608.50" y1="333.90" x2="612.90" y2="333.90" stroke="#111" stroke-width="1.15"/>
<line x1="610.70" y1="331.70" x2="610.70" y2="336.10" stroke="#111" stroke-width="1.15"/>
<line x1="623.40" y1="333.90" x2="627.80" y2="333.90" stroke="#111" stroke-width="1.15"/>
<line x1="639.80" y1="333.90" x2="644.20" y2="333.90" stroke="#111" stroke-width="1.15"/>
<line x1="642.00" y1="331.70" x2="642.00" y2="336.10" stroke="#111" stroke-width="1.15"/>
<text transform="translate(548.70,350.78) scale(0.96,1)" font-size="8.45" text-anchor="end" fill="#111" font-weight="bold" >BMSC</text>
<line x1="560.20" y1="347.70" x2="564.60" y2="347.70" stroke="#111" stroke-width="1.15"/>
<line x1="576.70" y1="347.70" x2="581.10" y2="347.70" stroke="#111" stroke-width="1.15"/>
<line x1="592.70" y1="347.70" x2="597.10" y2="347.70" stroke="#111" stroke-width="1.15"/>
<line x1="594.90" y1="345.50" x2="594.90" y2="349.90" stroke="#111" stroke-width="1.15"/>
<line x1="608.50" y1="347.70" x2="612.90" y2="347.70" stroke="#111" stroke-width="1.15"/>
<line x1="610.70" y1="345.50" x2="610.70" y2="349.90" stroke="#111" stroke-width="1.15"/>
<line x1="623.40" y1="347.70" x2="627.80" y2="347.70" stroke="#111" stroke-width="1.15"/>
<line x1="625.60" y1="345.50" x2="625.60" y2="349.90" stroke="#111" stroke-width="1.15"/>
<line x1="639.80" y1="347.70" x2="644.20" y2="347.70" stroke="#111" stroke-width="1.15"/>
<line x1="642.00" y1="345.50" x2="642.00" y2="349.90" stroke="#111" stroke-width="1.15"/>
<rect x="43.60" y="447.58" width="12.00" height="43.92" fill="#050505" />
<line x1="49.60" y1="448.08" x2="49.60" y2="443.90" stroke="#111" stroke-width="1.5"/>
<line x1="46.70" y1="443.90" x2="52.50" y2="443.90" stroke="#111" stroke-width="1.6"/>
<rect x="59.70" y="405.11" width="12.00" height="86.39" fill="#a0a0a0" />
<line x1="65.70" y1="405.61" x2="65.70" y2="401.00" stroke="#111" stroke-width="1.5"/>
<line x1="62.80" y1="401.00" x2="68.60" y2="401.00" stroke="#111" stroke-width="1.6"/>
<rect x="75.80" y="439.23" width="12.00" height="52.27" fill="#7f7f7f" />
<line x1="81.80" y1="439.73" x2="81.80" y2="435.60" stroke="#111" stroke-width="1.5"/>
<line x1="78.90" y1="435.60" x2="84.70" y2="435.60" stroke="#111" stroke-width="1.6"/>
<rect x="91.90" y="421.08" width="12.00" height="70.42" fill="#d4d4d4" />
<line x1="97.90" y1="421.58" x2="97.90" y2="417.40" stroke="#111" stroke-width="1.5"/>
<line x1="95.00" y1="417.40" x2="100.80" y2="417.40" stroke="#111" stroke-width="1.6"/>
<rect x="108.00" y="442.13" width="12.00" height="49.37" fill="#626262" />
<line x1="114.00" y1="442.63" x2="114.00" y2="437.80" stroke="#111" stroke-width="1.5"/>
<line x1="111.10" y1="437.80" x2="116.90" y2="437.80" stroke="#111" stroke-width="1.6"/>
<rect x="124.00" y="442.86" width="12.00" height="48.64" fill="#a2a2a2" />
<line x1="130.00" y1="443.36" x2="130.00" y2="438.60" stroke="#111" stroke-width="1.5"/>
<line x1="127.10" y1="438.60" x2="132.90" y2="438.60" stroke="#111" stroke-width="1.6"/>
<rect x="140.10" y="440.03" width="12.00" height="51.47" fill="#626262" />
<line x1="146.10" y1="440.53" x2="146.10" y2="436.60" stroke="#111" stroke-width="1.5"/>
<line x1="143.20" y1="436.60" x2="149.00" y2="436.60" stroke="#111" stroke-width="1.6"/>
<rect x="156.20" y="419.63" width="12.00" height="71.87" fill="#e9e9e9" />
<line x1="162.20" y1="420.13" x2="162.20" y2="415.90" stroke="#111" stroke-width="1.5"/>
<line x1="159.30" y1="415.90" x2="165.10" y2="415.90" stroke="#111" stroke-width="1.6"/>
<line x1="41.30" y1="382.40" x2="41.30" y2="492.10" stroke="#222" stroke-width="1.3"/>
<line x1="38.60" y1="491.50" x2="170.80" y2="491.50" stroke="#222" stroke-width="1.3"/>
<line x1="38.60" y1="382.90" x2="41.30" y2="382.90" stroke="#111" stroke-width="1.0"/>
<text transform="translate(37.20,385.95) scale(0.96,1)" font-size="8.5" text-anchor="end" fill="#111" font-weight="bold" >15000</text>
<line x1="38.60" y1="419.20" x2="41.30" y2="419.20" stroke="#111" stroke-width="1.0"/>
<text transform="translate(37.20,422.25) scale(0.96,1)" font-size="8.5" text-anchor="end" fill="#111" font-weight="bold" >10000</text>
<line x1="38.60" y1="455.50" x2="41.30" y2="455.50" stroke="#111" stroke-width="1.0"/>
<text transform="translate(37.20,458.55) scale(0.96,1)" font-size="8.5" text-anchor="end" fill="#111" font-weight="bold" >5000</text>
<line x1="38.60" y1="491.50" x2="41.30" y2="491.50" stroke="#111" stroke-width="1.0"/>
<text transform="translate(37.20,494.55) scale(0.96,1)" font-size="8.5" text-anchor="end" fill="#111" font-weight="bold" >0</text>
<text transform="translate(8.00,438.20) rotate(-90) scale(0.96,1)" font-size="8.5" text-anchor="middle" fill="#111" font-weight="bold">CPM</text>
<text transform="translate(53.20,500.10) rotate(-45) scale(0.96,1)" font-size="8.5" text-anchor="end" fill="#111" font-weight="bold">PBMC</text>
<text transform="translate(69.30,500.10) rotate(-45) scale(0.96,1)" font-size="8.5" text-anchor="end" fill="#111" font-weight="bold">PBMC+LPS</text>
<text transform="translate(85.40,500.10) rotate(-45) scale(0.96,1)" font-size="8.5" text-anchor="end" fill="#111" font-weight="bold">PBMC+LPS+BMSCs</text>
<text transform="translate(101.50,500.10) rotate(-45) scale(0.96,1)" font-size="8.5" text-anchor="end" fill="#111" font-weight="bold">antibody IL-10</text>
<text transform="translate(117.60,500.10) rotate(-45) scale(0.96,1)" font-size="8.5" text-anchor="end" fill="#111" font-weight="bold">antibody TGF-β1</text>
<text transform="translate(133.60,500.10) rotate(-45) scale(0.96,1)" font-size="8.5" text-anchor="end" fill="#111" font-weight="bold">indomethacin</text>
<text transform="translate(149.70,500.10) rotate(-45) scale(0.96,1)" font-size="8.5" text-anchor="end" fill="#111" font-weight="bold">L-NAME</text>
<text transform="translate(165.80,500.10) rotate(-45) scale(0.96,1)" font-size="8.5" text-anchor="end" fill="#111" font-weight="bold">1-MT</text>
<line x1="47.10" y1="550.90" x2="172.00" y2="550.90" stroke="#111" stroke-width="1.1"/>
<text transform="translate(106.00,562.00) scale(0.96,1)" font-size="8.6" text-anchor="middle" fill="#111" font-weight="bold" >PBMC+LPS+BMSCs</text>
<text transform="translate(65.70,397.40) scale(1.0,1)" font-size="11.5" text-anchor="middle" fill="#111" font-weight="bold" letter-spacing="0.5" style="stroke-width:0.1px">**</text>
<text transform="translate(81.80,430.16) scale(1.05,1)" font-size="8.0" text-anchor="middle" fill="#111" font-weight="normal" style="stroke-width:0.3px">##</text>
<text transform="translate(97.90,413.16) scale(1.0,1)" font-size="7.7" text-anchor="middle" fill="#111" font-weight="normal" letter-spacing="0.4" style="stroke-width:0.35px">&amp;&amp;</text>
<text transform="translate(162.20,410.66) scale(1.0,1)" font-size="7.7" text-anchor="middle" fill="#111" font-weight="normal" letter-spacing="0.4" style="stroke-width:0.35px">&amp;&amp;</text>
<rect x="241.10" y="445.32" width="12.00" height="44.38" fill="#050505" />
<line x1="247.10" y1="445.82" x2="247.10" y2="441.90" stroke="#111" stroke-width="1.5"/>
<line x1="244.20" y1="441.90" x2="250.00" y2="441.90" stroke="#111" stroke-width="1.6"/>
<line x1="247.10" y1="489.70" x2="247.10" y2="492.40" stroke="#111" stroke-width="1.0"/>
<rect x="257.30" y="403.04" width="12.00" height="86.66" fill="#a0a0a0" />
<line x1="263.30" y1="403.54" x2="263.30" y2="399.00" stroke="#111" stroke-width="1.5"/>
<line x1="260.40" y1="399.00" x2="266.20" y2="399.00" stroke="#111" stroke-width="1.6"/>
<line x1="263.30" y1="489.70" x2="263.30" y2="492.40" stroke="#111" stroke-width="1.0"/>
<rect x="273.40" y="438.15" width="12.00" height="51.55" fill="#7f7f7f" />
<line x1="279.40" y1="438.65" x2="279.40" y2="434.80" stroke="#111" stroke-width="1.5"/>
<line x1="276.50" y1="434.80" x2="282.30" y2="434.80" stroke="#111" stroke-width="1.6"/>
<line x1="279.40" y1="489.70" x2="279.40" y2="492.40" stroke="#111" stroke-width="1.0"/>
<rect x="289.50" y="419.33" width="12.00" height="70.37" fill="#d4d4d4" />
<line x1="295.50" y1="419.83" x2="295.50" y2="416.20" stroke="#111" stroke-width="1.5"/>
<line x1="292.60" y1="416.20" x2="298.40" y2="416.20" stroke="#111" stroke-width="1.6"/>
<line x1="295.50" y1="489.70" x2="295.50" y2="492.40" stroke="#111" stroke-width="1.0"/>
<rect x="305.60" y="437.07" width="12.00" height="52.63" fill="#626262" />
<line x1="311.60" y1="437.57" x2="311.60" y2="433.00" stroke="#111" stroke-width="1.5"/>
<line x1="308.70" y1="433.00" x2="314.50" y2="433.00" stroke="#111" stroke-width="1.6"/>
<line x1="311.60" y1="489.70" x2="311.60" y2="492.40" stroke="#111" stroke-width="1.0"/>
<rect x="321.70" y="434.53" width="12.00" height="55.17" fill="#a2a2a2" />
<line x1="327.70" y1="435.03" x2="327.70" y2="430.80" stroke="#111" stroke-width="1.5"/>
<line x1="324.80" y1="430.80" x2="330.60" y2="430.80" stroke="#111" stroke-width="1.6"/>
<line x1="327.70" y1="489.70" x2="327.70" y2="492.40" stroke="#111" stroke-width="1.0"/>
<rect x="337.90" y="437.07" width="12.00" height="52.63" fill="#626262" />
<line x1="343.90" y1="437.57" x2="343.90" y2="433.80" stroke="#111" stroke-width="1.5"/>
<line x1="341.00" y1="433.80" x2="346.80" y2="433.80" stroke="#111" stroke-width="1.6"/>
<line x1="343.90" y1="489.70" x2="343.90" y2="492.40" stroke="#111" stroke-width="1.0"/>
<rect x="354.00" y="417.52" width="12.00" height="72.18" fill="#e9e9e9" />
<line x1="360.00" y1="418.02" x2="360.00" y2="414.20" stroke="#111" stroke-width="1.5"/>
<line x1="357.10" y1="414.20" x2="362.90" y2="414.20" stroke="#111" stroke-width="1.6"/>
<line x1="360.00" y1="489.70" x2="360.00" y2="492.40" stroke="#111" stroke-width="1.0"/>
<line x1="239.50" y1="380.20" x2="239.50" y2="490.30" stroke="#222" stroke-width="1.3"/>
<line x1="236.80" y1="489.70" x2="368.30" y2="489.70" stroke="#222" stroke-width="1.3"/>
<line x1="236.80" y1="380.70" x2="239.50" y2="380.70" stroke="#111" stroke-width="1.0"/>
<text transform="translate(235.40,383.75) scale(0.96,1)" font-size="8.5" text-anchor="end" fill="#111" font-weight="bold" >15000</text>
<line x1="236.80" y1="416.90" x2="239.50" y2="416.90" stroke="#111" stroke-width="1.0"/>
<text transform="translate(235.40,419.95) scale(0.96,1)" font-size="8.5" text-anchor="end" fill="#111" font-weight="bold" >10000</text>
<line x1="236.80" y1="453.20" x2="239.50" y2="453.20" stroke="#111" stroke-width="1.0"/>
<text transform="translate(235.40,456.25) scale(0.96,1)" font-size="8.5" text-anchor="end" fill="#111" font-weight="bold" >5000</text>
<line x1="236.80" y1="489.70" x2="239.50" y2="489.70" stroke="#111" stroke-width="1.0"/>
<text transform="translate(235.40,492.75) scale(0.96,1)" font-size="8.5" text-anchor="end" fill="#111" font-weight="bold" >0</text>
<text transform="translate(204.50,433.50) rotate(-90) scale(0.96,1)" font-size="8.5" text-anchor="middle" fill="#111" font-weight="bold">CPM</text>
<text transform="translate(249.30,498.30) rotate(-45) scale(0.96,1)" font-size="8.5" text-anchor="end" fill="#111" font-weight="bold">PBMC</text>
<text transform="translate(265.50,498.30) rotate(-45) scale(0.96,1)" font-size="8.5" text-anchor="end" fill="#111" font-weight="bold">PBMC+LPS</text>
<text transform="translate(281.60,498.30) rotate(-45) scale(0.96,1)" font-size="8.5" text-anchor="end" fill="#111" font-weight="bold">Trans-PBMC+LPS+BMSCs</text>
<text transform="translate(297.70,498.30) rotate(-45) scale(0.96,1)" font-size="8.5" text-anchor="end" fill="#111" font-weight="bold">antibody IL-10</text>
<text transform="translate(310.20,501.90) rotate(-45) scale(0.96,1)" font-size="8.5" text-anchor="end" fill="#111" font-weight="bold">antibody TGF-β1</text>
<text transform="translate(329.90,498.30) rotate(-45) scale(0.96,1)" font-size="8.5" text-anchor="end" fill="#111" font-weight="bold">indomethacin</text>
<text transform="translate(346.10,498.30) rotate(-45) scale(0.96,1)" font-size="8.5" text-anchor="end" fill="#111" font-weight="bold">L-NAME</text>
<text transform="translate(362.20,498.30) rotate(-45) scale(0.96,1)" font-size="8.5" text-anchor="end" fill="#111" font-weight="bold">1-MT</text>
<line x1="240.30" y1="551.40" x2="367.50" y2="551.40" stroke="#111" stroke-width="1.1"/>
<text transform="translate(303.20,563.60) scale(0.96,1)" font-size="8.6" text-anchor="middle" fill="#111" font-weight="bold" >Trans-PBMC+LPS+BMSCs</text>
<text transform="translate(263.30,398.60) scale(1.0,1)" font-size="11.5" text-anchor="middle" fill="#111" font-weight="bold" letter-spacing="0.5" style="stroke-width:0.1px">**</text>
<text transform="translate(279.40,430.86) scale(1.05,1)" font-size="8.0" text-anchor="middle" fill="#111" font-weight="normal" style="stroke-width:0.3px">##</text>
<text transform="translate(295.50,410.66) scale(1.0,1)" font-size="7.7" text-anchor="middle" fill="#111" font-weight="normal" letter-spacing="0.4" style="stroke-width:0.35px">&amp;&amp;</text>
<text transform="translate(360.00,408.76) scale(1.0,1)" font-size="7.7" text-anchor="middle" fill="#111" font-weight="normal" letter-spacing="0.4" style="stroke-width:0.35px">&amp;&amp;</text>
</g></svg></body></html>
